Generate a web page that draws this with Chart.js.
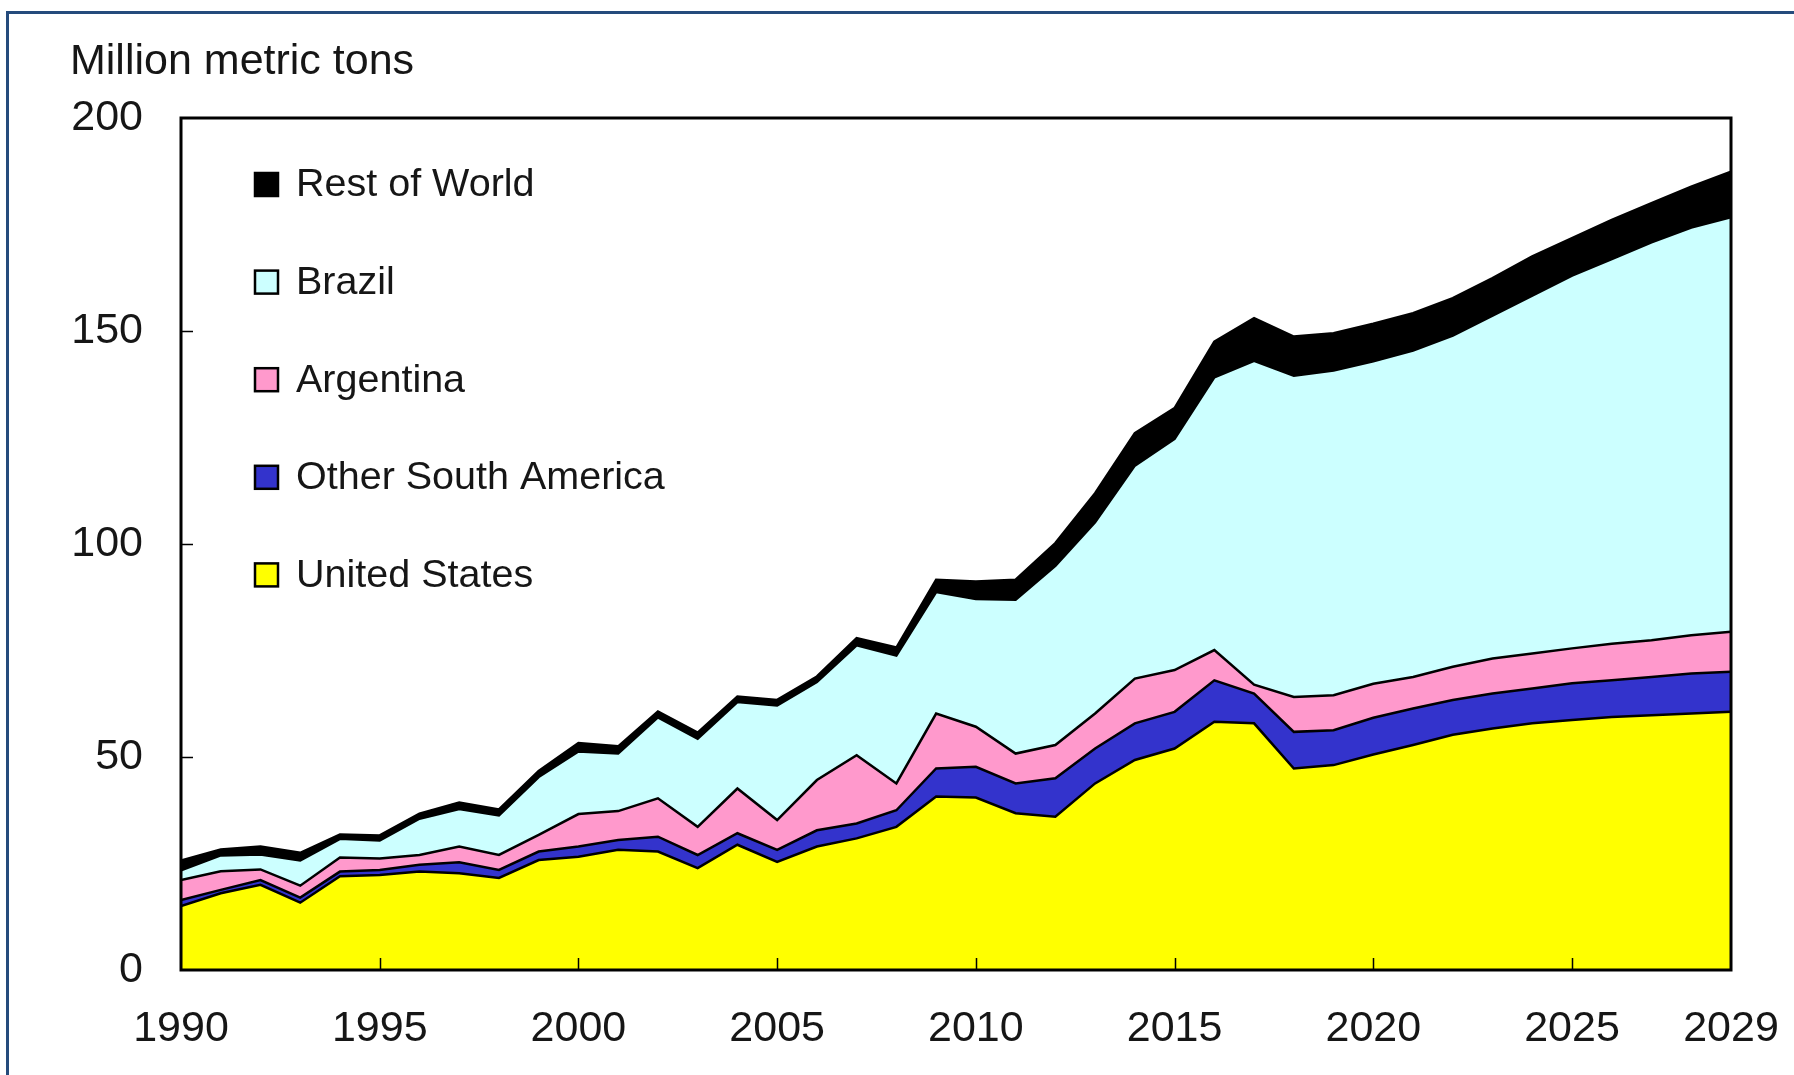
<!DOCTYPE html>
<html>
<head>
<meta charset="utf-8">
<script src="https://cdn.jsdelivr.net/npm/chart.js@4.4.1/dist/chart.umd.min.js"></script>
<style>
    html, body { margin: 0; padding: 0; background: #fff; overflow: hidden; }
    #wrap { position: relative; width: 1794px; height: 1075px; }
    #frame {
        position: absolute; left: 6px; top: 11px; width: 1830px; height: 1120px;
        border: 3px solid #254b7c; box-sizing: border-box;
    }
    #chart { position: absolute; left: 0; top: 0; }
</style>
</head>
<body>
<div id="wrap">
    <div id="frame"></div>
    <canvas id="chart" width="1794" height="1075"></canvas>
</div>
<script>
const years = [1990, 1991, 1992, 1993, 1994, 1995, 1996, 1997, 1998, 1999,
    2000, 2001, 2002, 2003, 2004, 2005, 2006, 2007, 2008, 2009,
    2010, 2011, 2012, 2013, 2014, 2015, 2016, 2017, 2018, 2019,
    2020, 2021, 2022, 2023, 2024, 2025, 2026, 2027, 2028, 2029];

// million metric tons
const unitedStates = [15.0, 18.0, 20.0, 15.8, 22.0, 22.3, 23.1, 22.7, 21.6, 25.8,
    26.6, 28.2, 27.8, 23.9, 29.4, 25.4, 29.0, 30.9, 33.6, 40.7,
    40.5, 36.8, 36.0, 43.8, 49.3, 52.0, 58.3, 57.9, 47.3, 48.1,
    50.6, 52.8, 55.2, 56.7, 57.9, 58.7, 59.4, 59.8, 60.2, 60.6];
const otherSouthAmerica = [1.4, 0.8, 1.1, 1.2, 1.1, 1.2, 1.6, 2.6, 1.9, 2.0,
    2.4, 2.3, 3.5, 3.1, 2.7, 2.8, 3.8, 3.5, 3.9, 6.6,
    7.2, 7.0, 9.0, 8.2, 8.6, 8.6, 9.7, 7.0, 8.6, 8.2,
    8.6, 8.6, 8.2, 8.2, 8.2, 8.6, 8.6, 9.0, 9.4, 9.4];
const argentina = [4.7, 4.4, 2.5, 2.8, 3.3, 2.7, 2.3, 3.7, 3.5, 3.9,
    7.6, 6.8, 9.0, 6.6, 10.5, 7.0, 11.8, 16.0, 6.3, 12.9,
    9.4, 7.0, 7.8, 8.2, 10.5, 9.8, 7.1, 2.1, 8.2, 8.2,
    8.0, 7.4, 7.8, 8.2, 8.2, 8.2, 8.6, 8.6, 9.0, 9.4];
const brazil = [2.3, 3.7, 3.5, 5.9, 4.4, 4.2, 8.5, 8.8, 9.3, 13.6,
    14.7, 13.5, 19.0, 20.7, 20.3, 26.9, 23.0, 25.8, 30.0, 28.5,
    30.0, 36.1, 42.1, 44.9, 50.0, 54.3, 64.0, 76.0, 75.4, 76.2,
    75.7, 76.6, 77.7, 80.5, 84.0, 87.5, 90.3, 93.4, 95.7, 97.3];
const restOfWorld = [2.3, 1.4, 1.9, 1.8, 1.0, 1.2, 1.2, 1.5, 1.4, 1.4,
    2.0, 1.7, 1.4, 1.4, 1.3, 1.3, 1.3, 1.7, 1.9, 2.9,
    4.1, 4.7, 5.3, 6.8, 7.6, 7.2, 8.4, 10.0, 9.2, 8.8,
    8.8, 8.8, 8.8, 8.8, 9.2, 8.8, 9.2, 9.2, 9.6, 10.7];

const xTicks = [1990, 1995, 2000, 2005, 2010, 2015, 2020, 2025, 2029];
const yTicks = [0, 50, 100, 150, 200];

const fontFamily = "'Liberation Sans', Arial, sans-serif";
const textColor = '#161616';

// bottom of the stack first
const series = [
    { label: 'United States', data: unitedStates, color: '#ffff00' },
    { label: 'Other South America', data: otherSouthAmerica, color: '#3333cc' },
    { label: 'Argentina', data: argentina, color: '#ff99cc' },
    { label: 'Brazil', data: brazil, color: '#ccffff' },
    { label: 'Rest of World', data: restOfWorld, color: '#000000' }
];

// draws the boxed plot area, inward tick marks, unit label and the legend
const decorPlugin = {
    id: 'decor',
    afterDatasetsDraw(chart) {
        const { ctx, chartArea: a, scales: { x, y } } = chart;
        ctx.save();
        ctx.strokeStyle = '#000';
        ctx.lineWidth = 1.5;
        ctx.beginPath();
        x.ticks.forEach(t => {
            if (t.value > x.min && t.value < x.max) {
                const px = Math.round(x.getPixelForValue(t.value)) + 0.5;
                ctx.moveTo(px, a.bottom);
                ctx.lineTo(px, a.bottom - 12);
            }
        });
        y.ticks.forEach(t => {
            if (t.value > y.min && t.value < y.max) {
                const py = Math.round(y.getPixelForValue(t.value)) + 0.5;
                ctx.moveTo(a.left, py);
                ctx.lineTo(a.left + 12, py);
            }
        });
        ctx.stroke();
        ctx.lineWidth = 3;
        ctx.strokeRect(a.left, a.top, a.right - a.left, a.bottom - a.top);
        ctx.restore();
    },
    afterDraw(chart) {
        const ctx = chart.ctx;
        ctx.save();
        ctx.fillStyle = textColor;
        ctx.textBaseline = 'middle';
        ctx.font = `43px ${fontFamily}`;
        ctx.fillText('Million metric tons', 70, 62);

        ctx.font = `39.5px ${fontFamily}`;
        const items = chart.data.datasets.slice().reverse();
        items.forEach((ds, i) => {
            const cy = 184.5 + i * 97.6;
            ctx.fillStyle = ds.backgroundColor;
            ctx.fillRect(255, cy - 11.5, 23, 23);
            ctx.strokeStyle = '#000';
            ctx.lineWidth = 2.5;
            ctx.strokeRect(255, cy - 11.5, 23, 23);
            ctx.fillStyle = textColor;
            ctx.fillText(ds.label, 296, cy + 1);
        });
        ctx.restore();
    }
};

new Chart(document.getElementById('chart'), {
    type: 'line',
    data: {
        labels: years,
        datasets: series.map((s, i) => ({
            label: s.label,
            data: s.data,
            backgroundColor: s.color,
            borderColor: '#000',
            borderWidth: 2.5,
            fill: i === 0 ? 'origin' : '-1',
            pointRadius: 0,
            tension: 0
        }))
    },
    options: {
        responsive: false,
        animation: false,
        layout: { padding: { left: 0, right: 63, top: 118, bottom: 0 } },
        plugins: {
            legend: { display: false },
            tooltip: { enabled: false }
        },
        scales: {
            x: {
                type: 'linear',
                min: 1990,
                max: 2029,
                afterBuildTicks: s => { s.ticks = xTicks.map(v => ({ value: v })); },
                afterFit: s => {
                    s.height = 105;
                    // keep the plot box where the reference has it
                    s.paddingLeft = 0;
                    s.paddingRight = 0;
                },
                ticks: {
                    font: { family: fontFamily, size: 43 },
                    color: textColor,
                    padding: 33,
                    maxRotation: 0,
                    autoSkip: false,
                    callback: v => String(v)
                },
                grid: { display: false, drawTicks: false },
                border: { display: false }
            },
            y: {
                stacked: true,
                min: 0,
                max: 200,
                afterBuildTicks: s => { s.ticks = yTicks.map(v => ({ value: v })); },
                afterFit: s => { s.width = 181; },
                ticks: {
                    font: { family: fontFamily, size: 43 },
                    color: textColor,
                    padding: 38
                },
                grid: { display: false, drawTicks: false },
                border: { display: false }
            }
        }
    },
    plugins: [decorPlugin]
});
</script>
</body>
</html>
